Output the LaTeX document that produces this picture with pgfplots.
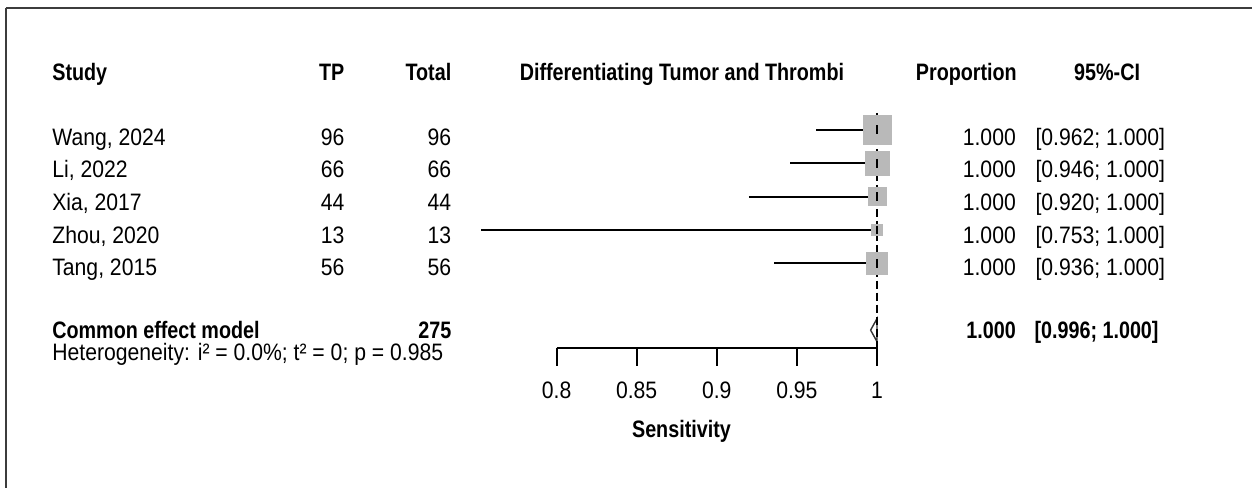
\documentclass[border=0pt]{standalone}
\usepackage{pgfplots}
\pgfplotsset{compat=1.18}
\usepackage{pgfplotstable}
\usepackage{fontspec}
\setmainfont{Liberation Sans}[FakeStretch=0.89]
\newfontfamily\bcond{Liberation Sans}[FakeStretch=0.83]
\newcommand{\B}[1]{{\bcond\bfseries #1}}
\definecolor{sqgray}{HTML}{B9B9B9}
\definecolor{framegray}{HTML}{3C3C3C}
\newcommand{\fs}{\fontsize{11.9}{14.2}\selectfont}

% row: study row; lo/hi: 95% CI; est: proportion; side: square side (px)
\pgfplotstableread{
row lo    hi    est   side
1   0.962 1.000 1.000 29
2   0.946 1.000 1.000 25
3   0.920 1.000 1.000 19
4   0.753 1.000 1.000 12
5   0.936 1.000 1.000 22
}\studies

\begin{document}
\begin{tikzpicture}[font=\fs]
% ---------- page layer (pixel coordinates) ----------
\begin{axis}[at={(0,0)}, anchor=south west, scale only axis,
  width=626.5pt, height=244pt, xmin=0, xmax=1253, ymin=0, ymax=488,
  y dir=reverse, hide axis, clip=false,
  nodes={inner sep=0pt, font=\fs}]
\path (axis cs:0,0) rectangle (axis cs:1253,488);
\draw[framegray, line width=1pt] (axis cs:6,8) -- (axis cs:1253,8);
\draw[framegray, line width=1pt] (axis cs:6.5,7.5) -- (axis cs:6.5,488);
% header
\node[anchor=base west] at (axis cs:52,81) {\B{Study}};
\node[anchor=base east] at (axis cs:345,81) {\B{TP}};
\node[anchor=base east] at (axis cs:452,81) {\B{Total}};
\node[anchor=base] at (axis cs:682.5,81) {\B{Differentiating Tumor and Thrombi}};
\node[anchor=base east] at (axis cs:1018,81) {\B{Proportion}};
\node[anchor=base] at (axis cs:1108,81) {\B{95\%-CI}};
% study rows
\node[anchor=base west] at (axis cs:52,145.5) {Wang, 2024};
\node[anchor=base west] at (axis cs:52,178) {Li, 2022};
\node[anchor=base west] at (axis cs:52,210.5) {Xia, 2017};
\node[anchor=base west] at (axis cs:52,243.5) {Zhou, 2020};
\node[anchor=base west] at (axis cs:52,276) {Tang, 2015};
\node[anchor=base east] at (axis cs:345,145.5) {96};
\node[anchor=base east] at (axis cs:345,178) {66};
\node[anchor=base east] at (axis cs:345,210.5) {44};
\node[anchor=base east] at (axis cs:345,243.5) {13};
\node[anchor=base east] at (axis cs:345,276) {56};
\node[anchor=base east] at (axis cs:452,145.5) {96};
\node[anchor=base east] at (axis cs:452,178) {66};
\node[anchor=base east] at (axis cs:452,210.5) {44};
\node[anchor=base east] at (axis cs:452,243.5) {13};
\node[anchor=base east] at (axis cs:452,276) {56};
\node[anchor=base east] at (axis cs:1017,145.5) {1.000};
\node[anchor=base east] at (axis cs:1017,178) {1.000};
\node[anchor=base east] at (axis cs:1017,210.5) {1.000};
\node[anchor=base east] at (axis cs:1017,243.5) {1.000};
\node[anchor=base east] at (axis cs:1017,276) {1.000};
\node[anchor=base west] at (axis cs:1036,145.5) {[0.962; 1.000]};
\node[anchor=base west] at (axis cs:1036,178) {[0.946; 1.000]};
\node[anchor=base west] at (axis cs:1036,210.5) {[0.920; 1.000]};
\node[anchor=base west] at (axis cs:1036,243.5) {[0.753; 1.000]};
\node[anchor=base west] at (axis cs:1036,276) {[0.936; 1.000]};
% summary
\node[anchor=base west] at (axis cs:52,338.5) {\B{Common effect model}};
\node[anchor=base east] at (axis cs:452,338.5) {\B{275}};
\node[anchor=base east] at (axis cs:1017,338.5) {\B{1.000}};
\node[anchor=base west] at (axis cs:1035,338.5) {\B{[0.996; 1.000]}};
\node[anchor=base west] at (axis cs:52,361) {Heterogeneity: i² = 0.0\%; t² = 0; p = 0.985};
\node[anchor=base] at (axis cs:682,438) {\B{Sensitivity}};
\end{axis}
% ---------- forest panel ----------
\begin{axis}[at={(278.5pt,70pt)}, anchor=south west, scale only axis,
  width=160.35pt, height=124pt,
  xmin=0.8, xmax=1, ymin=-7.527, ymax=-0.102,
  axis x line*=bottom, axis y line=none,
  x axis line style={-, line width=1pt, black},
  xtick={0.8,0.85,0.9,0.95,1},
  xticklabels={0.8,0.85,0.9,0.95,1},
  tick align=outside, major tick length=9pt,
  xtick style={line width=1pt, black},
  xticklabel style={font=\fs, anchor=base, inner sep=0pt, yshift=-16.5pt},
  clip=false]
% squares (weights)
\addplot[scatter, only marks, mark=square*,
  point meta=\thisrow{side},
  scatter/use mapped color={draw=sqgray, fill=sqgray},
  visualization depends on={\thisrow{side}/4-0.2 \as \msz},
  scatter/@pre marker code/.append style={/tikz/mark size=\msz}]
  table[x=est, y expr=-\thisrow{row}] {\studies};
% summary diamond
\addplot[black!80, line width=0.7pt, fill=white]
  coordinates {(0.996,-7) (1,-6.656) (1,-7.344) (0.996,-7)};
% reference line
\addplot[black, line width=0.8pt, dash pattern=on 4pt off 2pt]
  coordinates {(1,-0.49) (1,-7.527)};
% confidence intervals
\addplot[black, line width=1pt] coordinates {(0.962,-1) (1,-1)};
\addplot[black, line width=1pt] coordinates {(0.946,-2) (1,-2)};
\addplot[black, line width=1pt] coordinates {(0.920,-3) (1,-3)};
\addplot[black, line width=1pt] coordinates {(0.753,-4) (1,-4)};
\addplot[black, line width=1pt] coordinates {(0.936,-5) (1,-5)};
\addplot[only marks, mark=|, mark size=2.2pt, mark options={line width=1pt, black}]
  table[x=hi, y expr=-\thisrow{row}] {\studies};
\end{axis}
\end{tikzpicture}
\end{document}
